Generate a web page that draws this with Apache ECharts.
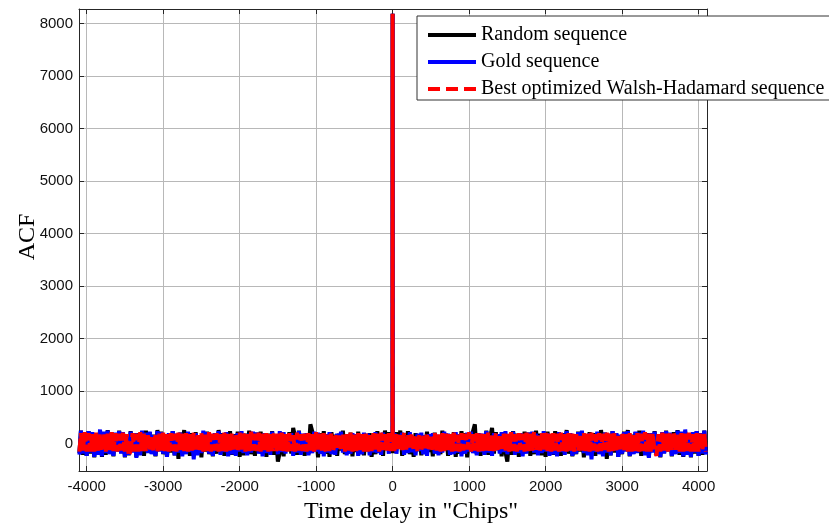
<!DOCTYPE html>
<html>
<head>
<meta charset="utf-8">
<script src="https://cdn.jsdelivr.net/npm/echarts@6/dist/echarts.min.js"></script>
<style>
  html, body { margin: 0; padding: 0; background: #fff; }
  #chart { width: 829px; height: 524px; }
</style>
</head>
<body>
<div id="chart"></div>
<script>
// Autocorrelation of three spreading sequences versus time delay (chips).
// The ACF is even, so values are listed for positive delays and mirrored.
const lagStep = 25;
const maxLag = 4095;
const peakValue = 8191; // ACF at zero delay

// Positive delays: 1, then every lagStep chips, then the last delay.
const positiveLags = [1];
for (let k = lagStep; k < maxLag; k += lagStep) positiveLags.push(k);
positiveLags.push(maxLag);

const randomAcf = [
  140, -180, 220, -90, 250, -230, 160, -120, 240, -200, 60, -250, 200, -140, 180,
  -220, 150, -60, 230, -160, 120, -240, 210, -170, 90, -200, 250, -130, 190, -230,
  170, -80, 220, -250, 140, -190, 240, -110, 200, -260, 160, -140, 230, 370, -200,
  180, -230, 110, -170, 250, -210, 130, 300, -190, 220, -120, 170, -240, 200, -160,
  -340, 150, -210, 240, -100, 190, -250, 130, -180, 230, -140, 210, -230, 80, -200,
  250, -160, 190, -220, 120, -250, 230, -90, 180, -210, 240, -170, 140, -230, 200,
  -130, 260, -190, 170, -240, 110, -200, 230, -150, 190, -260, 140, -180, 220, -120,
  200, -230, 160, -190, 260, -140, 210, -290, 130, -220, 240, -170, 190, -250, 150,
  -200, 230, -110, 260, -240, 170, -190, 220, -160, 250, -230, 140, -210, 200, -250,
  180, -150, 240, -220, 130, -260, 210, -180, 250, -120, 190, -240, 220, -170, 260,
  -210, 150, -250, 230, -140, 200, -260, 180, -190, 240, -230, 160, -210, 250, -180];

const goldAcf = [
  -120, 200, -190, 170, -60, 210, -210, 150, -180, 220, -160, 90, -220, 190, -140,
  210, -200, 160, -230, 180, -110, 200, -190, 170, -220, 140, -170, 230, -100, 190,
  -210, 140, -200, 220, -170, 180, -240, 160, -190, 210, -150, 230, -180, 120, -220,
  200, -160, 190, -210, 240, -170, 150, -230, 200, -120, 180, -190, 220, -160, 240,
  -200, 170, -110, 230, -210, 160, -180, 200, -240, 150, -190, 210, -130, 230, -170,
  190, -220, 160, -180, 240, -150, 200, -230, 170, -200, 110, -240, 220, -160, 190,
  -210, 240, -140, 200, -230, 170, -190, 220, -120, 250, -180, 160, -220, 200, -300,
  180, -160, 230, -200, 150, -240, 210, -170, 190, -220, 240, -130, 200, -250, 170,
  -190, 220, -150, 240, -230, 160, -200, 230, -180, 210, -140, 250, -220, 190, -270,
  200, -170, 230, -210, 160, -250, 220, -190, 240, -150, 210, -230, 180, -200, 250,
  -180, 230, -240, 270, -210, 190, -250, 220, -170, 240, -230, 200, -190, 250, -210];

const walshAcf = [
  170, -140, 200, -130, 180, -120, 210, -150, 190, -110, 200, -140, 160, -150, 190,
  -150, 180, -120, 200, -140, 170, -150, 210, -130, 180, -150, 200, -140, 190, -120,
  180, -150, 210, -140, 170, -150, 200, -130, 190, -110, 220, -150, 180, -130, 200,
  -150, 190, -140, 180, -130, 210, -150, 160, -140, 200, -150, 180, -140, 210, -130,
  190, -150, 220, -140, 180, -150, 200, -120, 190, -150, 210, -140, 190, -130, 230,
  -140, 180, -150, 200, -110, 210, -140, 190, -150, 200, -130, 190, -150, 210, -140,
  180, -150, 200, -130, 190, -150, 220, -140, 170, -150, 200, -140, 190, -150, 210,
  -130, 180, -150, 200, -140, 190, -120, 210, -150, 190, -140, 200, -150, 180, -140,
  210, -130, 190, -150, 200, -150, 160, -140, 200, -150, 190, -140, 220, -150, 190,
  -150, 200, -140, -230, 180, -150, 210, -130, 190, -150, 200, -140, 220, -120, 190,
  -150, 200, -150, 190, -140, 210, -150, 180, -150, 200, -150, 220, -130, 200, -150];

const seriesNames = ['Random sequence', 'Gold sequence', 'Best optimized Walsh-Hadamard sequence'];

// Build [delay, acf] pairs over negative and positive delays.
function buildPairs(values) {
  const pts = [];
  for (let i = positiveLags.length - 1; i >= 0; i--) pts.push([-positiveLags[i], values[i]]);
  pts.push([0, peakValue]);
  for (let i = 0; i < positiveLags.length; i++) pts.push([positiveLags[i], values[i]]);
  return pts;
}

const serif = '"Liberation Serif", "Times New Roman", serif';
const sans = '"Liberation Sans", Arial, Helvetica, sans-serif';
const axisColor = '#262626';
const gridColor = '#b8b8b8';

const chart = echarts.init(document.getElementById('chart'), null, { renderer: 'canvas' });

const plain = v => String(v);

function mirrorAxis(extra) {
  return Object.assign({
    type: 'value',
    axisLine: { show: true, onZero: false, lineStyle: { color: axisColor, width: 1 } },
    axisTick: { show: true, inside: true, length: 5, lineStyle: { color: axisColor } },
    axisLabel: { show: false }, splitLine: { show: false }
  }, extra);
}

chart.setOption({
  animation: false,
  backgroundColor: '#ffffff',
  grid: { left: 79, right: 122, top: 9, bottom: 53, containLabel: false },
  xAxis: [{
    type: 'value', min: -4100, max: 4110, splitNumber: 8,
    axisLine: { show: true, onZero: false, lineStyle: { color: axisColor, width: 1 } },
    axisTick: { show: true, inside: true, length: 5, lineStyle: { color: axisColor } },
    axisLabel: { show: true, margin: 8, color: '#111', fontFamily: sans, fontSize: 15,
      showMinLabel: false, showMaxLabel: false, formatter: plain },
    splitLine: { show: true, lineStyle: { color: gridColor, width: 1 } }
  }, mirrorAxis({ position: 'top', min: -4100, max: 4110, splitNumber: 8 })],
  yAxis: [{
    type: 'value', min: -520, max: 8280, splitNumber: 8,
    axisLine: { show: true, onZero: false, lineStyle: { color: axisColor, width: 1 } },
    axisTick: { show: true, inside: true, length: 5, lineStyle: { color: axisColor } },
    axisLabel: { show: true, margin: 6, color: '#111', fontFamily: sans, fontSize: 15,
      showMinLabel: false, showMaxLabel: false, formatter: plain },
    splitLine: { show: true, lineStyle: { color: gridColor, width: 1 } }
  }, mirrorAxis({ position: 'right', min: -520, max: 8280, splitNumber: 8 })],
  legend: {
    orient: 'vertical', left: 417, top: 16,
    padding: [9, 14, 1, 9],
    itemWidth: 48, itemHeight: 14, itemGap: 7,
    backgroundColor: '#ffffff', borderColor: '#333333', borderWidth: 1,
    itemStyle: { opacity: 0, borderWidth: 0 },
    lineStyle: { width: 4 },
    textStyle: { fontFamily: serif, fontSize: 20, color: '#000', lineHeight: 20 },
    data: [
      { name: seriesNames[0] },
      { name: seriesNames[1] },
      { name: seriesNames[2], lineStyle: { type: [12, 6] } }
    ]
  },
  graphic: [{
    type: 'text', x: 28, y: 237, rotation: Math.PI / 2,
    style: { text: 'ACF', font: '24px ' + serif, fill: '#000', align: 'center', verticalAlign: 'middle' }
  }, {
    type: 'text', x: 411, y: 512,
    style: { text: 'Time delay in "Chips"', font: '24px ' + serif, fill: '#000', align: 'center', verticalAlign: 'middle' }
  }],
  series: [{
    name: seriesNames[0], type: 'line', data: buildPairs(randomAcf),
    showSymbol: false, symbol: 'none', clip: true,
    lineStyle: { color: '#000000', width: 4 }, itemStyle: { color: '#000000' }
  }, {
    name: seriesNames[1], type: 'line', data: buildPairs(goldAcf),
    showSymbol: false, symbol: 'none', clip: true,
    lineStyle: { color: '#0000ff', width: 4 }, itemStyle: { color: '#0000ff' }
  }, {
    name: seriesNames[2], type: 'line', data: buildPairs(walshAcf),
    showSymbol: false, symbol: 'none', clip: true,
    lineStyle: { color: '#ff0000', width: 4, type: [13, 4] }, itemStyle: { color: '#ff0000' }
  }]
});
</script>
</body>
</html>
